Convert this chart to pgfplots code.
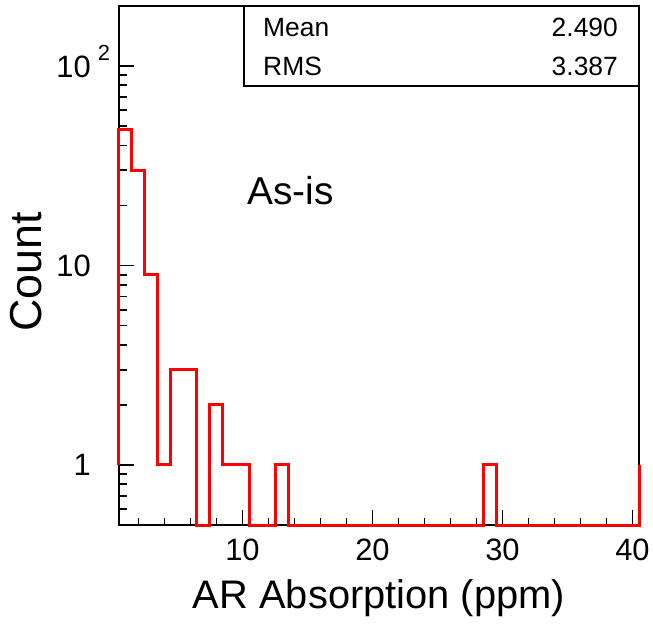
\documentclass[border=0pt]{standalone}
\usepackage{fontspec}
\setmainfont{Liberation Sans}
\usepackage{pgfplots}
\pgfplotsset{compat=1.18}
\pgfplotstableread{
x y
0.5 1
0.5 48
1.5 30
2.5 9
3.5 1
4.5 3
5.5 3
6.5 0.5
7.5 2
8.5 1
9.5 1
10.5 0.5
12.5 1
13.5 0.5
28.5 1
29.5 0.5
40.5 0.5
40.5 1
}\histdata
\begin{document}
\begin{tikzpicture}
\begin{axis}[
  at={(0,0)}, anchor=south west,
  scale only axis, width=520bp, height=519bp,
  xmin=0.5, xmax=40.5,
  ymode=log, ymin=0.5, ymax=200,
  xtick={10,20,30,40},
  minor xtick={2,4,6,8,12,14,16,18,22,24,26,28,32,34,36,38},
  ytick={1,10,100},
  yticklabels={1,10,{10\rlap{\hspace{7bp}\raisebox{17bp}{\fontsize{22}{22}\selectfont 2}}}},
  minor ytick={0.5,0.6,0.7,0.8,0.9,2,3,4,5,6,7,8,9,20,30,40,50,60,70,80,90,200},
  tick pos=left,
  tick align=inside,
  major tick length=15bp,
  minor tick length=7.5bp,
  tick style={black, line width=1.8bp},
  axis line style={line width=1.8bp},
  /pgf/number format/assume math mode=true,
  xticklabel style={font=\fontsize{31}{33}\selectfont, anchor=north, inner sep=0pt, yshift=-14bp},
  yticklabel style={font=\fontsize{31}{33}\selectfont, anchor=base east, inner sep=0pt, xshift=-28bp, yshift=-11bp},
  clip=false,
]
\addplot[red, line width=3bp, const plot mark left, mark=none] table[x=x, y=y] {\histdata};
\end{axis}
% stats box
\draw[line width=1.2bp] (125bp,519bp) -- (125bp,439bp) -- (520bp,439bp);
\node[anchor=base west, inner sep=0pt, font=\fontsize{26.5}{28}\selectfont] at (144bp,488bp) {Mean};
\node[anchor=base west, inner sep=0pt, font=\fontsize{26.5}{28}\selectfont] at (144bp,449bp) {RMS};
\node[anchor=base east, inner sep=0pt, font=\fontsize{26.5}{28}\selectfont] at (499bp,488bp) {2.490};
\node[anchor=base east, inner sep=0pt, font=\fontsize{26.5}{28}\selectfont] at (499bp,449bp) {3.387};
% annotation
\node[anchor=base west, inner sep=0pt, font=\fontsize{39}{40}\selectfont] at (128bp,320bp) {As-is};
% axis titles
\node[anchor=base, inner sep=0pt, font=\fontsize{40}{42}\selectfont] at (260bp,-83bp) {AR Absorption (ppm)};
\node[rotate=90, anchor=base, inner sep=0pt, font=\fontsize{45}{47}\selectfont] at (-77bp,253bp) {Count};
\pgfresetboundingbox
\path (-119bp,-100bp) rectangle (534bp,525bp);
\end{tikzpicture}
\end{document}
